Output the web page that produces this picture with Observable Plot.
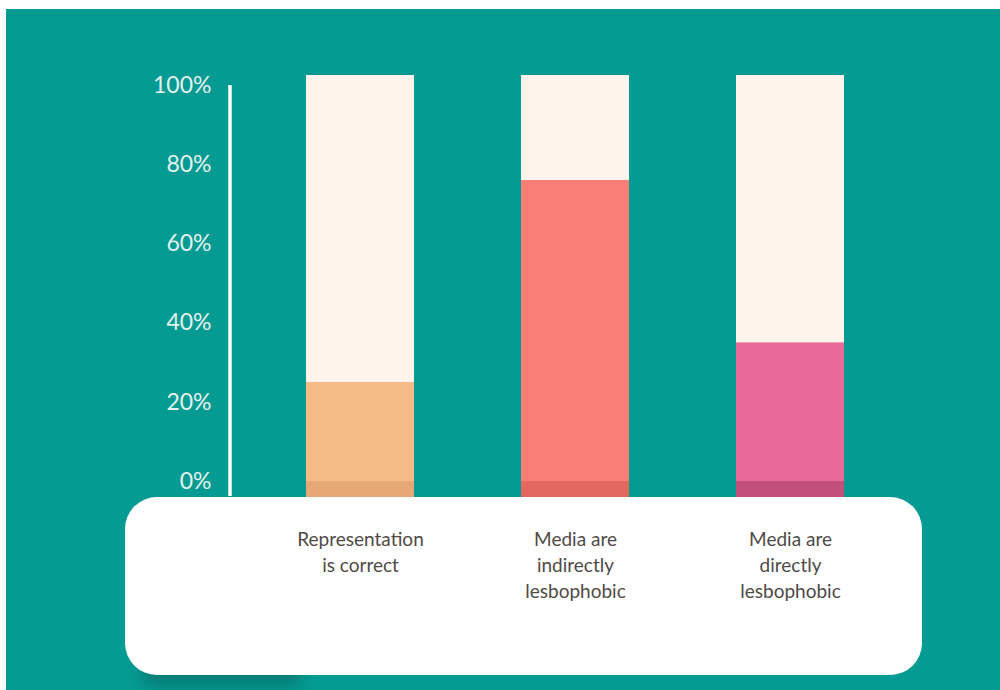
<!DOCTYPE html>
<html>
<head>
<meta charset="utf-8">
<script src="https://cdn.jsdelivr.net/npm/d3@7"></script>
<script src="https://cdn.jsdelivr.net/npm/@observablehq/plot@0.6"></script>
<style>
  html, body { margin: 0; padding: 0; background: #ffffff; }
  #page { position: relative; width: 1000px; height: 690px; overflow: hidden; background: #ffffff; }
  #panel { position: absolute; left: 6px; top: 9px; width: 994px; height: 681px; background: #059A92; }
  #shadow { position: absolute; left: 136px; top: 648px; width: 160px; height: 30px; border-radius: 20px;
            background: rgba(0, 40, 35, 0.25); filter: blur(7px); }
  #box { position: absolute; left: 119px; top: 488px; width: 797px; height: 178px; border-radius: 32px; background: #ffffff; }
  #chart { position: absolute; left: 0; top: 0; }
</style>
</head>
<body>
<div id="page">
  <div id="panel">
    <div id="shadow"></div>
    <div id="box"></div>
    <div id="chart"></div>
  </div>
</div>
<script>
const categories = ["Representation\nis correct", "Media are\nindirectly\nlesbophobic", "Media are\ndirectly\nlesbophobic"];
const shares = [25, 76, 35];
const totals = [100, 100, 100];
const barColors = ["#F5BB86", "#F87E76", "#E8699A"];
const baseColors = ["#E6A877", "#E3685F", "#C1507C"];
const yTicks = [0, 20, 40, 60, 80, 100];

const rows = categories.map((c, i) => ({cat: c, share: shares[i], total: totals[i], color: barColors[i], base: baseColors[i]}));

const axisLine = (index, scales, values, dimensions) => {
  const line = document.createElementNS("http://www.w3.org/2000/svg", "line");
  const x = dimensions.marginLeft;
  line.setAttribute("x1", x);
  line.setAttribute("x2", x);
  line.setAttribute("y1", scales.y(100));
  line.setAttribute("y2", scales.y(0) + 15);
  line.setAttribute("stroke", "#ffffff");
  line.setAttribute("stroke-width", 3.5);
  return line;
};

const chart = Plot.plot({
  width: 994,
  height: 681,
  marginLeft: 224,
  marginRight: 80,
  marginTop: 76,
  marginBottom: 209,
  style: {background: "transparent", fontFamily: "Lato, 'Open Sans', sans-serif"},
  x: {domain: categories, paddingInner: 0.5, paddingOuter: 0.35, axis: null},
  y: {domain: [0, 100], axis: null},
  marks: [
    Plot.barY(rows, {x: "cat", y: "total", fill: "#FFF4EB", insetTop: -10, insetBottom: -16}),
    Plot.barY(rows, {x: "cat", y: "share", fill: d => d.color, insetBottom: -16}),
    Plot.barY(rows, {x: "cat", y1: 0, y2: 0, fill: d => d.base, insetTop: 0, insetBottom: -16}),
    axisLine,
    Plot.axisY({ticks: yTicks, tickSize: 0, tickPadding: 19, tickFormat: d => d + "%", fontSize: 23, color: "#E2F2EF", label: null}),
    Plot.axisX({tickSize: 0, tickPadding: 46, fontSize: 19, color: "#4F4A47", lineHeight: 1.37, label: null})
  ]
});
document.getElementById("chart").appendChild(chart);
</script>
</body>
</html>
